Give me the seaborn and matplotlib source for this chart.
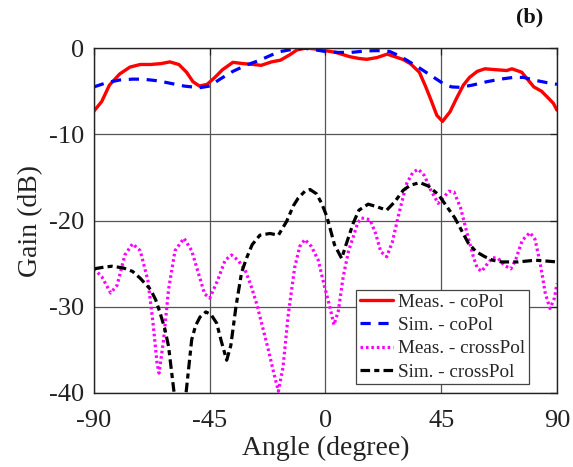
import matplotlib
matplotlib.use("Agg")
import matplotlib.pyplot as plt
import seaborn as sns
import pandas as pd

# ---- data ----
meas_co_x = [-90, -87, -84, -80, -76, -72, -68, -64, -60.5, -57, -54, -51.5, -49, -46, -43, -40, -36, -32, -28, -25,
             -21, -17.5, -14, -11, -7.5, -4, 0, 4, 9.5, 13, 16, 20, 24, 27, 30, 33, 36.5, 39, 41, 43.3, 45.5, 48.4,
             51, 53.6, 56, 59, 62, 66, 70.5, 72.5, 76.3, 78.5, 81, 84, 86, 88.6, 90]
meas_co_y = [-7.3, -6.2, -4.3, -3.0, -2.2, -1.9, -1.9, -1.8, -1.6, -1.9, -2.8, -3.9, -4.4, -4.2, -3.4, -2.5, -1.65,
             -1.8, -1.9, -2.0, -1.6, -1.4, -0.8, -0.2, 0.0, -0.1, -0.3, -0.5, -1.0, -1.2, -1.3, -1.1, -0.7, -1.0,
             -1.3, -1.8, -2.8, -4.5, -6.0, -7.8, -8.5, -7.4, -5.8, -4.3, -3.4, -2.7, -2.4, -2.5, -2.6, -2.4, -2.8,
             -3.6, -4.5, -5.0, -5.6, -6.4, -7.2]

sim_co_x = [-90, -85, -80, -75, -71, -65, -60, -55, -49, -45, -41, -36, -31, -25.5, -21, -17.5, -13, -8.5, -4, 0, 5,
            10, 15, 18.5, 22, 25, 28, 31.6, 36, 40.6, 45.7, 49, 52.3, 57, 62.7, 68, 73, 77, 81, 86, 90]
sim_co_y = [-4.5, -4.0, -3.7, -3.6, -3.6, -3.8, -4.1, -4.4, -4.6, -4.4, -3.6, -2.7, -2.0, -1.4, -0.8, -0.4, -0.15,
            0.0, -0.2, -0.4, -0.5, -0.5, -0.35, -0.3, -0.3, -0.4, -0.8, -1.4, -2.2, -3.1, -4.1, -4.5, -4.55, -4.3,
            -3.9, -3.6, -3.4, -3.4, -3.7, -4.0, -4.2]

meas_x_x = [-90, -87, -83.5, -81, -78, -75, -72, -69, -67, -65.5, -64.7, -63, -61, -58.5, -55, -52, -49, -47, -45,
            -42, -39, -36.5, -34, -31.3, -29, -26.8, -24.5, -22.2, -20, -18.3, -16.5, -14.5, -12, -10, -8, -5.5,
            -2.8, -0.5, 1.7, 3.3, 5, 6.9, 9, 10.8, 12.5, 14, 17.3, 19.5, 21.5, 23.8, 26, 28.3, 30, 31.6, 34, 36.1,
            38.5, 41, 43.8, 46, 48, 50, 52.5, 54.9, 57.5, 59, 60.7, 63, 65, 67.2, 69.5, 72.1, 74, 76.5, 79.5, 81.5,
            83.5, 85.5, 87.3, 89, 90]
meas_x_y = [-25.6, -26.5, -28.4, -27.5, -24.0, -22.7, -23.5, -27.0, -32.0, -36.5, -37.7, -34.0, -28.0, -23.5,
            -22.05, -23.5, -26.5, -28.5, -29.0, -27.0, -24.6, -24.0, -24.6, -25.7, -27.5, -29.6, -32.3, -35.0,
            -37.8, -39.8, -37.0, -31.0, -25.5, -23.0, -22.2, -23.0, -24.6, -27.5, -30.0, -32.1, -30.5, -26.5,
            -23.5, -21.9, -20.3, -19.7, -19.9, -21.5, -23.6, -24.2, -22.5, -19.5, -17.5, -15.7, -14.4, -14.05,
            -14.8, -16.5, -18.0, -17.3, -16.6, -16.7, -18.5, -21.3, -24.2, -25.5, -25.9, -25.0, -24.3, -24.4,
            -25.2, -25.6, -24.5, -22.3, -21.4, -22.2, -25.0, -28.5, -30.2, -29.0, -27.3]

sim_x_x = [-90, -86, -83, -78.6, -75, -72, -68, -66, -64.3, -62.5, -61, -59, -57.5, -55.5, -54.2, -52, -50.5, -48.8,
           -46.5, -44.5, -42.3, -40.5, -38.4, -36.8, -34.8, -32.6, -30.6, -28.5, -25.5, -21.6, -18.3, -15.1, -12.5,
           -10.6, -8, -6, -3.5, -1.5, 0.5, 1.7, 3.5, 6.3, 8, 10.8, 13, 16.6, 20, 23.8, 27, 30.2, 33, 36.7, 40, 43.9,
           47, 50.3, 53, 55.5, 58.5, 62, 65, 68.5, 75, 81.5, 86, 90]
sim_x_y = [-25.6, -25.4, -25.3, -25.5, -25.9, -26.7, -28.0, -29.2, -30.7, -32.5, -34.6, -39.6, -43.0, -43.0, -40.0,
           -33.8, -32.2, -31.2, -30.6, -30.9, -31.9, -34.0, -36.2, -34.5, -30.0, -26.0, -24.3, -22.8, -21.7, -21.5,
           -21.7, -20.1, -18.3, -17.4, -16.6, -16.4, -16.9, -18.0, -19.5, -20.8, -22.8, -24.4, -22.8, -20.3, -18.8,
           -18.1, -18.4, -18.8, -17.8, -16.5, -15.9, -15.6, -16.0, -17.0, -18.3, -19.7, -21.2, -22.6, -23.6, -24.2,
           -24.6, -24.8, -24.8, -24.6, -24.7, -24.8]

x_ticks = [-90, -45, 0, 45, 90]
y_ticks = [0, -10, -20, -30, -40]
labels = ["Meas. - coPol", "Sim. - coPol", "Meas. - crossPol", "Sim. - crossPol"]

# ---- plotting ----
sns.set_style("white")
plt.rcParams["font.family"] = ["Liberation Serif", "DejaVu Serif"]
plt.rcParams["axes.unicode_minus"] = False

fig = plt.figure(figsize=(5.73, 4.67), dpi=100)
ax = fig.add_axes([0.164, 0.1585, 0.808, 0.7385])

series = [
    (meas_co_x, meas_co_y, "#ff0000", "-", labels[0], 2.4),
    (sim_co_x, sim_co_y, "#0000ff", (0, (3.2, 2.4)), labels[1], 2.3),
    (meas_x_x, meas_x_y, "#ff00ff", (0, (0.8, 0.9)), labels[2], 2.3),
    (sim_x_x, sim_x_y, "#000000", (0, (3.0, 1.3, 1.6, 1.3)), labels[3], 2.3),
]
for xs, ys, c, ls, lab, lw in series:
    df = pd.DataFrame({"x": xs, "y": ys})
    sns.lineplot(data=df, x="x", y="y", ax=ax, color=c, linewidth=lw, label=lab, sort=False,
                 estimator=None)
    ax.lines[-1].set_linestyle(ls)

ax.set_xlim(-90, 90)
ax.set_ylim(-40, 0)
ax.set_xticks(x_ticks)
ax.set_yticks(y_ticks)
ax.grid(True, color="#555555", linewidth=0.9)
ax.set_axisbelow(True)
for s in ax.spines.values():
    s.set_color("#222222")
    s.set_linewidth(1.0)
ax.tick_params(direction="in", length=5, width=0.9, top=True, right=True, labelsize=19,
               colors="#222222", labelcolor="#222222")
ax.tick_params(axis="x", pad=12)
ax.tick_params(axis="y", pad=7)
ax.set_xlabel("Angle (degree)", fontsize=20, color="#222222", labelpad=3)
ax.set_ylabel("Gain (dB)", fontsize=20, color="#222222", labelpad=4)

leg = ax.legend(loc="lower right", bbox_to_anchor=(0.94, 0.025), fontsize=13.8, frameon=True,
                fancybox=False, framealpha=1, edgecolor="#444444", borderpad=0.2, labelspacing=0.3,
                handlelength=1.75, handletextpad=0.25, borderaxespad=0)
leg.get_frame().set_linewidth(0.9)

fig.text(0.925, 0.962, "(b)", fontsize=16, fontweight="bold", ha="center", va="center", color="#111111")

fig.savefig("out.png", dpi=100)
